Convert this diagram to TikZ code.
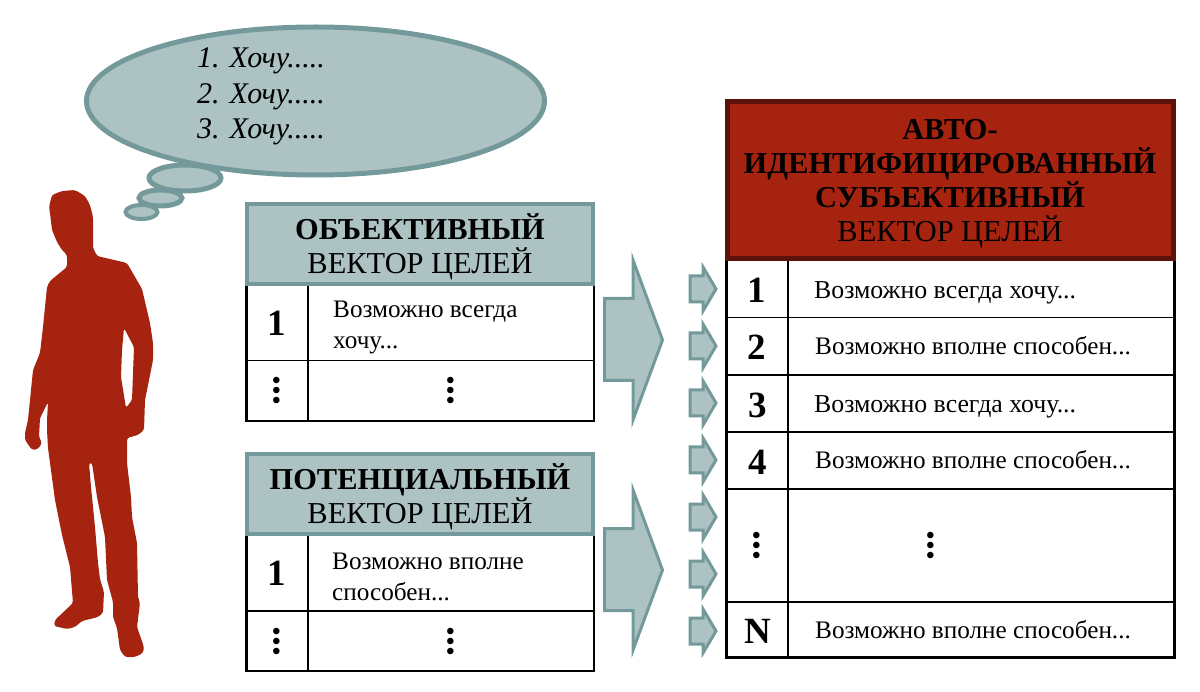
\documentclass[tikz,border=0pt]{standalone}
\usepackage{fontspec}
\setmainfont{Liberation Serif}
\definecolor{tealfill}{HTML}{ADC2C3}
\definecolor{tealline}{HTML}{73999A}
\definecolor{redfill}{HTML}{A62310}
\definecolor{redline}{HTML}{5A120A}
\tikzset{
  x=1pt,y=-1pt,
  bubble/.style={draw=tealline,fill=tealfill,line width=5pt},
  wish/.style={anchor=west,inner sep=0,font=\fontsize{30}{30}\selectfont\itshape},
  headteal/.style={draw=tealline,fill=tealfill,line width=4.5pt},
  headred/.style={draw=redline,fill=redfill,line width=5pt},
  grid/.style={draw=black,line width=2.5pt},
  thin grid/.style={draw=black,line width=1.6pt},
  headtxt/.style={align=center,inner sep=0,font=\fontsize{30.4}{34}\selectfont},
  rowtxt/.style={anchor=west,align=left,inner sep=0,font=\fontsize{25.2}{31}\selectfont},
  rowone/.style={anchor=base west,inner sep=0,font=\fontsize{25.2}{31}\selectfont},
  rowwide/.style={anchor=base west,inner sep=0,font=\fontsize{25.8}{31}\selectfont},
  numtxt/.style={inner sep=0,font=\fontsize{37}{37}\selectfont\bfseries},
  vdots/.style={inner sep=0,rotate=90,font=\fontsize{40}{40}\selectfont\bfseries},
  arrowshape/.style={draw=tealline,fill=tealfill,line width=3pt,line join=miter},
}
\begin{document}
\begin{tikzpicture}
\useasboundingbox (0,0) rectangle (1200,692);
% thought bubbles
\draw[bubble] (315.5,101) ellipse [x radius=229,y radius=74];
\draw[bubble] (185,178) ellipse [x radius=36,y radius=13];
\draw[bubble] (160.5,198) ellipse [x radius=21.5,y radius=8];
\draw[bubble,line width=4pt] (141.5,212) ellipse [x radius=16,y radius=7];
\node[wish] (w1) at (197,61) {1. Хочу.....};
\node[wish] (w2) at (197,97) {2. Хочу.....};
\node[wish] (w3) at (197,132) {3. Хочу.....};
% silhouette
\fill[redfill,even odd rule,rounded corners=2.5pt]
 (49,207) -- (52,195) -- (62,191) -- (75,190) -- (85,196) -- (90,205) -- (93,217) -- (93,248) -- (97,256)
 -- (127,263) -- (142,289) -- (150,323) -- (153,343) -- (153,360) -- (145,400) -- (144,430) -- (138,435)
 -- (127,438) -- (127,463) -- (131,497) -- (132,517) -- (137,543) -- (138,597) -- (140,603) -- (137,627)
 -- (144,647) -- (143,653) -- (135,657) -- (125,657) -- (120,650) -- (117,628) -- (113,617) -- (113,602)
 -- (107,580) -- (105,537) -- (97,497) -- (92,463) -- (89,463) -- (91,487) -- (95,527) -- (98,563)
 -- (100,579) -- (104,592) -- (103,613) -- (98,617) -- (82,621) -- (75,627) -- (67,629) -- (54,626)
 -- (55,620) -- (73,603) -- (70,567) -- (62,535) -- (55,500) -- (48,448) -- (47,430) -- (47,420) -- (48,402)
 -- (40,418) -- (39,437) -- (42,443) -- (38,449) -- (32,450) -- (25,440) -- (25,433) -- (28,420)
 -- (33,370) -- (40,353) -- (43,327) -- (47,287) -- (50,281) -- (67,267) -- (67,255) -- (62,250) -- (57,242)
 -- (52,230) -- (50,213) -- cycle
 (124,328) -- (134,347) -- (132,400) -- (126,408) -- (121,377) -- (122,350) -- cycle;
% table 1
\draw[grid] (246.5,285) rectangle (594,421);
\draw[grid] (308,285) -- (308,421);
\draw[thin grid] (246.5,360.5) -- (594,360.5);
\draw[headteal] (247,204) rectangle (593,284);
\node[headtxt] (h1) at (420,247) {\textbf{ОБЪЕКТИВНЫЙ}\\ВЕКТОР ЦЕЛЕЙ};
\node[numtxt] (a1) at (277,323) {1};
\node[rowtxt] (a2) at (333,327) {Возможно всегда\\хочу...};
\node[vdots] (a3) at (277,391) {...};
\node[vdots] (a4) at (451,391) {...};
% table 2
\draw[grid] (246.5,535) rectangle (594,671);
\draw[grid] (308,535) -- (308,671);
\draw[thin grid] (246.5,611) -- (594,611);
\draw[headteal] (247,454) rectangle (593,534);
\node[headtxt] (h2) at (420,497) {\textbf{ПОТЕНЦИАЛЬНЫЙ}\\ВЕКТОР ЦЕЛЕЙ};
\node[numtxt] (b1) at (277,573) {1};
\node[rowtxt] (b2) at (332,577) {Возможно вполне\\способен...};
\node[vdots] (b3) at (277,641) {...};
\node[vdots] (b4) at (451,641) {...};
% big arrows
\foreach \d in {0,230}{
  \draw[arrowshape] (604.5,298.5+\d) -- (633,298.5+\d) -- (633,260+\d) -- (662.5,340+\d)
     -- (633,420+\d) -- (633,380.5+\d) -- (604.5,380.5+\d) -- cycle;
}
% small arrows
\foreach \c in {289,346,403,460,517,574,631}{
  \draw[arrowshape] (690,\c-13) -- (703,\c-13) -- (703,\c-22) -- (716,\c)
     -- (703,\c+22) -- (703,\c+13) -- (690,\c+13) -- cycle;
}
% table 3
\draw[grid] (726.5,260) rectangle (1174.5,657.5);
\draw[grid] (788,260) -- (788,657.5);
\foreach \y in {317.5,375,432,489,602}{\draw[thin grid] (726.5,\y) -- (1174.5,\y);}
\draw[headred] (727.5,101.5) rectangle (1173.5,258.5);
\node[headtxt] (h3) at (950,183.5) {\textbf{АВТО-}\\\textbf{ИДЕНТИФИЦИРОВАННЫЙ}\\\textbf{СУБЪЕКТИВНЫЙ}\\ВЕКТОР ЦЕЛЕЙ};
\node[numtxt] (c1) at (757,290) {1};
\node[numtxt] (c2) at (757,347) {2};
\node[numtxt] (c3) at (758,405) {3};
\node[numtxt] (c4) at (758,462) {4};
\node[vdots] (c5) at (757,545) {...};
\node[numtxt] (c6) at (758,631) {N};
\node[rowwide] (d1) at (814,299) {Возможно всегда хочу...};
\node[rowone] (d2) at (815,355) {Возможно вполне способен...};
\node[rowwide] (d3) at (814,413) {Возможно всегда хочу...};
\node[rowone] (d4) at (815,469) {Возможно вполне способен...};
\node[vdots] (d5) at (931,545) {...};
\node[rowone] (d6) at (815,638) {Возможно вполне способен...};
\end{tikzpicture}
\end{document}
